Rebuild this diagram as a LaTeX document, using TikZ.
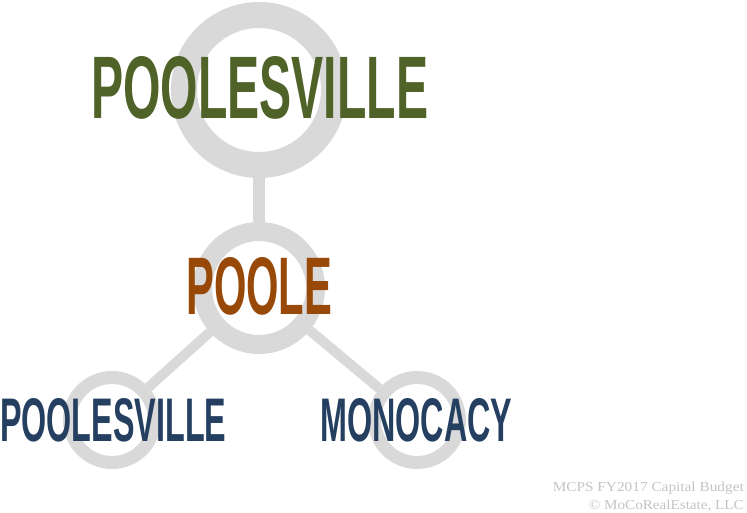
\documentclass[tikz,border=0pt]{standalone}
\usepackage{fontspec}
\usepackage{graphicx}
\setmainfont{Liberation Serif}
\newfontfamily\headfont{Liberation Sans}
\definecolor{ringgray}{HTML}{D9D9D9}
\definecolor{olivegreen}{HTML}{4F6228}
\definecolor{rustorange}{HTML}{984807}
\definecolor{navyblue}{HTML}{243F60}
\definecolor{footgray}{HTML}{C4C4C4}
\begin{document}
\begin{tikzpicture}[x=1pt,y=-1pt,
  ring/.style={circle, draw=ringgray, inner sep=0pt, fill=none},
  link/.style={draw=ringgray},
  word/.style={inner sep=0pt, anchor=base west},
  foot/.style={inner sep=0pt, anchor=base east, text=footgray}]
\useasboundingbox (0,0) rectangle (747,513);
\node[ring, line width=26pt, minimum size=150pt] (top) at (259,90) {};
\node[ring, line width=19pt, minimum size=113pt] (mid) at (259,288) {};
\node[ring, line width=13pt, minimum size=85pt] (bl) at (112,420) {};
\node[ring, line width=13pt, minimum size=85pt] (br) at (417,420) {};
\draw[link, line width=12.7pt] (top) -- (mid);
\draw[link, line width=10pt] (mid) -- (bl);
\draw[link, line width=10pt] (mid) -- (br);
\node[word, text=olivegreen] (t1) at (91,119) {\resizebox{337pt}{62pt}{\headfont\bfseries POOLESVILLE}};
\node[word, text=rustorange] (t2) at (186,314) {\resizebox{146pt}{57pt}{\headfont\bfseries POOLE}};
\node[word, text=navyblue] (t3) at (0,441) {\resizebox{226pt}{43pt}{\headfont\bfseries POOLESVILLE}};
\node[word, text=navyblue] (t4) at (320,441) {\resizebox{192pt}{43pt}{\headfont\bfseries MONOCACY}};
\node[foot] (f1) at (744,491.7) {\resizebox{191pt}{9.5pt}{MCPS FY2017 Capital Budget}};
\node[foot] (f2) at (744,509) {\resizebox{155pt}{9.5pt}{© MoCoRealEstate, LLC}};
\end{tikzpicture}
\end{document}
